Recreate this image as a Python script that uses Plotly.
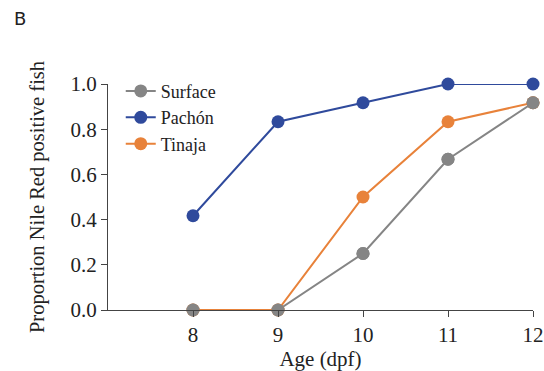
import plotly.graph_objects as go

ages = [8, 9, 10, 11, 12]
surface = [0.0, 0.0, 0.25, 0.667, 0.917]
pachon = [0.417, 0.833, 0.917, 1.0, 1.0]
tinaja = [0.0, 0.0, 0.5, 0.833, 0.917]

c_surface = "#858585"
c_pachon = "#2F4A9C"
c_tinaja = "#E8823A"
serif = "Liberation Serif"

fig = go.Figure()
for name, vals, col in [("Surface", surface, c_surface), ("Pachón", pachon, c_pachon), ("Tinaja", tinaja, c_tinaja)]:
    fig.add_trace(go.Scatter(x=ages, y=vals, name=name, mode="lines+markers",
                             line=dict(color=col, width=2),
                             marker=dict(color=col, size=13),
                             cliponaxis=False))
# surface markers drawn on top of the Tinaja line
fig.add_trace(go.Scatter(x=ages, y=surface, mode="markers", showlegend=False,
                         marker=dict(color=c_surface, size=13), cliponaxis=False, hoverinfo="skip"))

fig.update_layout(
    width=544, height=371,
    margin=dict(l=108, r=11, t=84, b=61),
    paper_bgcolor="white", plot_bgcolor="white",
    font=dict(family=serif, size=21, color="#222"),
    showlegend=True,
    legend=dict(x=0.03, y=1.05, xanchor="left", yanchor="top", bgcolor="rgba(0,0,0,0)",
                font=dict(family=serif, size=18, color="#222"), itemwidth=30, tracegroupgap=0),
    xaxis=dict(range=[7, 12], tickvals=ages, ticktext=[str(a) for a in ages], automargin=False,
               tickfont=dict(family=serif, size=21, color="#222"),
               showgrid=False, zeroline=False, showline=True, linecolor="#444", linewidth=1,
               ticks="outside", ticklen=6, tickcolor="#444",
               title=dict(text="Age (dpf)", font=dict(family=serif, size=21), standoff=2)),
    yaxis=dict(range=[0, 1], tickvals=[0, 0.2, 0.4, 0.6, 0.8, 1.0], automargin=False,
               ticktext=["0.0", "0.2", "0.4", "0.6", "0.8", "1.0"],
               tickfont=dict(family=serif, size=21, color="#222"),
               showgrid=False, zeroline=False, showline=True, linecolor="#444", linewidth=1,
               ticks="outside", ticklen=6, tickcolor="#444",
               title=dict(text="Proportion Nile Red positive fish", font=dict(family=serif, size=20.5), standoff=20)),
    annotations=[dict(text="B", x=(12 - 108) / 425, y=1 + (84 - 18) / 226, xref="paper", yref="paper",
                      xanchor="left", yanchor="middle", showarrow=False,
                      font=dict(family="DejaVu Sans", size=18, color="#222"))],
)

fig.write_html("out.html")
